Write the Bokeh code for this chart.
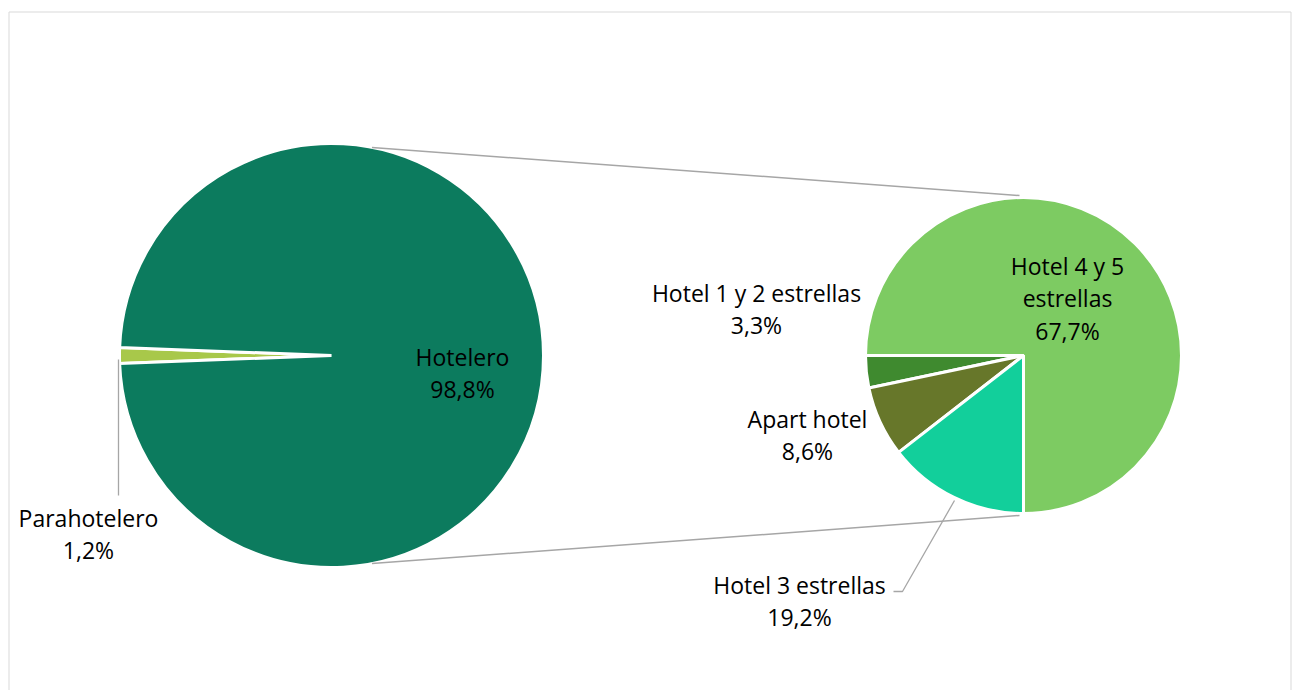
import math
from bokeh.plotting import figure
from bokeh.models import Range1d
from bokeh.core.properties import value
from bokeh.embed import file_html
from bokeh.resources import INLINE

# ---- data ----
main_categories = ["Hotelero", "Parahotelero"]
main_values = [98.8, 1.2]
main_colors = ["#0C7B5E", "#A8C84A"]

sub_categories = ["Hotel 4 y 5 estrellas", "Hotel 1 y 2 estrellas", "Apart hotel", "Hotel 3 estrellas"]
sub_values = [67.7, 3.3, 8.6, 19.2]          # percentages shown in the labels
sub_shares = [75.0, 3.3, 7.2, 14.5]          # slice sizes as drawn in the picture
sub_colors = ["#7DCB62", "#3F8A2F", "#67772A", "#12CF9B"]

# ---- layout (page pixel coordinates, y downward; converted below) ----
W, H = 1296, 690
LEFT_C = (331, 355)
LEFT_R = 212
RIGHT_C = (1023, 355)
RIGHT_R = 158
FONT = "Open Sans"
FS = "23px"
LINE_GAP = 32.5
GRAY = "#A6A6A6"


def Y(y):
    return -y


p = figure(width=W, height=H, x_range=Range1d(0, W), y_range=Range1d(-H, 0),
           output_backend="svg", toolbar_location=None, min_border=0)
p.axis.visible = False
p.grid.visible = False
p.outline_line_color = None
p.background_fill_color = "white"
p.border_fill_color = "white"

# chart border
p.quad(left=[8.5], right=[1290.5], top=[Y(11.5)], bottom=[Y(760)], fill_color=None,
       line_color="#D9D9D9", line_width=1)

# ---- left pie ----
tot = sum(main_values)
para_span = main_values[1] / tot * 2 * math.pi
starts, ends, cols = [], [], []
a = math.pi - para_span / 2
for i in [1, 0]:
    span = main_values[i] / tot * 2 * math.pi
    starts.append(a)
    ends.append(a + span)
    cols.append(main_colors[i])
    a += span
p.wedge(x=[LEFT_C[0]] * 2, y=[Y(LEFT_C[1])] * 2, radius=LEFT_R, start_angle=starts, end_angle=ends,
        direction="anticlock", fill_color=cols, line_color="white", line_width=3)

# ---- right pie ----
tot2 = sum(sub_shares)
starts, ends = [], []
a = 1.5 * math.pi
for s in sub_shares:
    span = s / tot2 * 2 * math.pi
    starts.append(a)
    ends.append(a + span)
    a += span
p.wedge(x=[RIGHT_C[0]] * 4, y=[Y(RIGHT_C[1])] * 4, radius=RIGHT_R, start_angle=starts, end_angle=ends,
        direction="anticlock", fill_color=sub_colors, line_color="white", line_width=3)

# ---- connector lines ----
ang = math.radians(79)
for sgn in (1, -1):
    x0 = LEFT_C[0] + LEFT_R * math.cos(ang)
    y0 = Y(LEFT_C[1]) + sgn * LEFT_R * math.sin(ang)
    x1 = RIGHT_C[0] - 4
    y1 = Y(RIGHT_C[1]) + sgn * (RIGHT_R + 2)
    p.line([x0, x1], [y0, y1], line_color=GRAY, line_width=1.5)

# ---- leader lines ----
p.line([118, 118], [Y(359), Y(495)], line_color=GRAY, line_width=1.3)
p.line([954, 902, 893], [Y(500), Y(591), Y(591)], line_color=GRAY, line_width=1.3)


# ---- labels ----
def pct(v):
    return f"{v:.1f}".replace(".", ",") + "%"


label_lines = [
    ([main_categories[0], pct(main_values[0])], 462, 356),
    ([main_categories[1], pct(main_values[1])], 88, 517),
    ([sub_categories[1], pct(sub_values[1])], 756, 292),
    ([sub_categories[2], pct(sub_values[2])], 807, 418),
    (["Hotel 4 y 5", "estrellas", pct(sub_values[0])], 1067, 265),
    ([sub_categories[3], pct(sub_values[3])], 799, 584),
]
xs, ys, ts = [], [], []
for lines, cx, cy in label_lines:
    for k, t in enumerate(lines):
        xs.append(cx)
        ys.append(Y(cy + k * LINE_GAP))
        ts.append(t)
p.text(x=xs, y=ys, text=ts, text_font=value(FONT), text_font_size=FS, text_align="center",
       text_baseline="middle", text_color="#000000")

open("out.html", "w").write(file_html(p, INLINE))
